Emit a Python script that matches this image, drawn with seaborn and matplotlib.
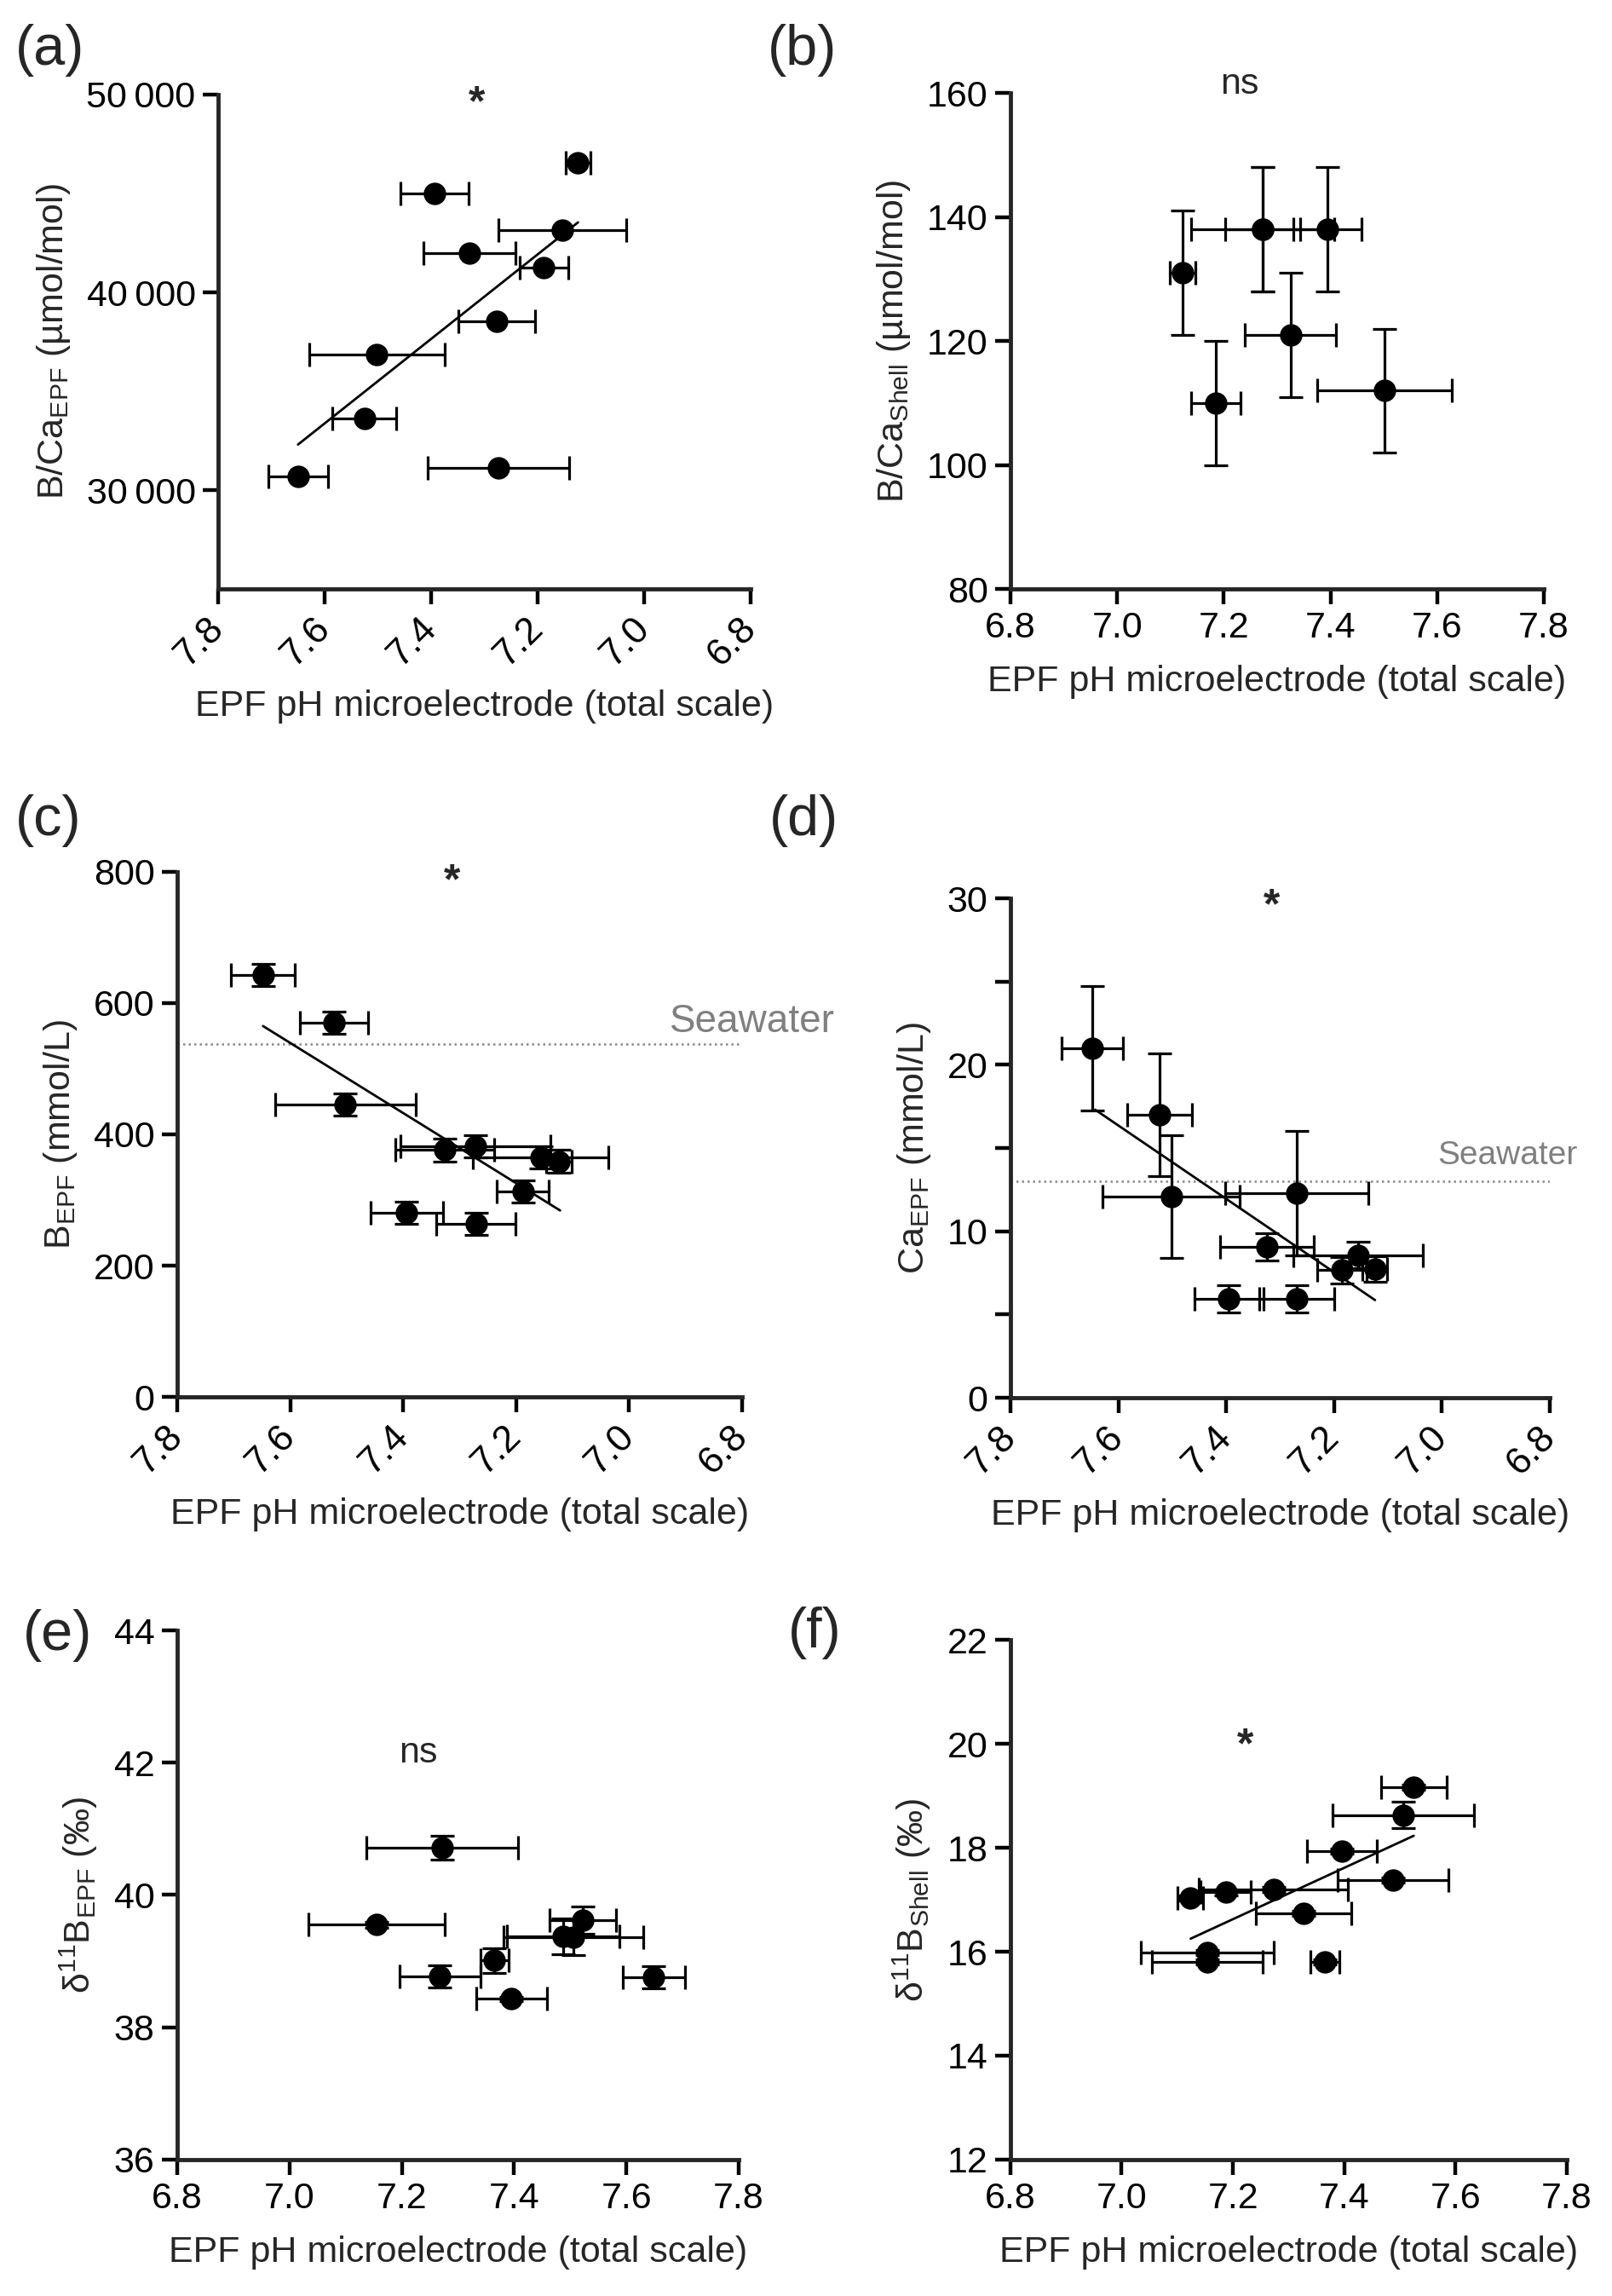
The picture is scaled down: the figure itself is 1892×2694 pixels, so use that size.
import matplotlib
matplotlib.use('Agg')
import matplotlib.pyplot as plt
import seaborn as sns
from matplotlib.ticker import FuncFormatter, MultipleLocator

# ---- data ----
# (a) B/Ca EPF vs pH (reversed x)
a_ph = [7.650, 7.525, 7.502, 7.394, 7.328, 7.276, 7.273, 7.188, 7.153, 7.124]
a_ph_err = [0.056, 0.060, 0.127, 0.064, 0.087, 0.072, 0.133, 0.046, 0.120, 0.023]
a_bca = [30670, 33610, 36840, 45020, 41990, 38520, 31100, 41270, 43130, 46530]
a_fit_ph = [7.650, 7.124]
a_fit_bca = [32300, 43540]

# (b) B/Ca shell
b_ph = [7.123, 7.185, 7.273, 7.273, 7.395, 7.325, 7.501]
b_ph_err = [0.024, 0.047, 0.071, 0.134, 0.064, 0.085, 0.126]
b_bca = [131, 110, 138, 138, 138, 121, 112]
b_bca_err = [10, 10, 10, 10, 10, 10, 10]

# (c) B EPF
c_ph = [7.648, 7.522, 7.502, 7.394, 7.326, 7.271, 7.272, 7.188, 7.156, 7.124]
c_ph_err = [0.057, 0.060, 0.125, 0.064, 0.087, 0.070, 0.133, 0.046, 0.120, 0.023]
c_b = [643, 570, 445, 280, 376, 264, 382, 313, 365, 359]
c_b_err = [17, 17, 17, 17, 18, 17, 17, 17, 17, 17]
c_fit_ph = [7.648, 7.122]
c_fit_b = [565, 284]
c_seawater = 538

# (d) Ca EPF
d_ph = [7.648, 7.524, 7.502, 7.395, 7.324, 7.269, 7.269, 7.185, 7.155, 7.124]
d_ph_err = [0.057, 0.060, 0.127, 0.064, 0.087, 0.133, 0.070, 0.046, 0.120, 0.023]
d_ca = [21.0, 17.0, 12.1, 5.93, 9.06, 12.3, 5.93, 7.66, 8.57, 7.75]
d_ca_err = [3.75, 3.7, 3.7, 0.83, 0.83, 3.75, 0.83, 0.8, 0.8, 0.76]
d_fit_ph = [7.643, 7.124]
d_fit_ca = [17.31, 5.87]
d_seawater = 13

# (e) d11B EPF
e_ph = [7.272, 7.155, 7.268, 7.365, 7.395, 7.488, 7.506, 7.523, 7.649]
e_ph_err = [0.135, 0.121, 0.072, 0.025, 0.063, 0.100, 0.124, 0.059, 0.056]
e_d11b = [40.71, 39.55, 38.77, 39.01, 38.43, 39.38, 39.36, 39.62, 38.76]
e_d11b_err = [0.18, 0.05, 0.17, 0.19, 0.03, 0.27, 0.27, 0.20, 0.17]

# (f) d11B shell
f_ph = [7.525, 7.506, 7.396, 7.488, 7.273, 7.187, 7.123, 7.327, 7.154, 7.154, 7.365]
f_ph_err = [0.059, 0.127, 0.063, 0.100, 0.134, 0.045, 0.023, 0.086, 0.119, 0.100, 0.026]
f_d11b = [19.17, 18.63, 17.94, 17.38, 17.19, 17.14, 17.04, 16.74, 15.99, 15.81, 15.81]
f_d11b_err = [0.05, 0.25, 0.05, 0.05, 0.05, 0.05, 0.05, 0.05, 0.05, 0.05, 0.05]
f_fit_ph = [7.124, 7.525]
f_fit_d11b = [16.25, 18.23]

xlab = 'EPF pH microelectrode (total scale)'

sns.set_theme(style='ticks')
plt.rcParams['font.family'] = ['Liberation Sans', 'DejaVu Sans']
plt.rcParams['mathtext.fontset'] = 'custom'
plt.rcParams['mathtext.rm'] = 'Liberation Sans'
plt.rcParams['mathtext.it'] = 'Liberation Sans:italic'
plt.rcParams['mathtext.bf'] = 'Liberation Sans:bold'

fig = plt.figure(figsize=(18.92, 26.94), dpi=100)


def panel(rect, x, y, xerr, yerr, reverse):
    ax = fig.add_axes(rect)
    ax.errorbar(x, y, xerr=xerr, yerr=yerr, fmt='none', ecolor='black',
                elinewidth=2.3, capsize=10, capthick=2.3, zorder=2)
    sns.scatterplot(x=x, y=y, ax=ax, color='black', s=360, linewidth=0, zorder=3)
    sns.despine(ax=ax)
    for s in ['left', 'bottom']:
        ax.spines[s].set_linewidth(3.5)
    ax.tick_params(which='both', width=3.2, length=13, labelsize=31, direction='out',
                   color='black', labelcolor='black', pad=6)
    if reverse:
        ax.set_xlim(7.8, 6.8)
        ax.set_xticks([7.8, 7.6, 7.4, 7.2, 7.0, 6.8])
        ax.set_xticklabels(['7.8', '7.6', '7.4', '7.2', '7.0', '6.8'], fontsize=32,
                           rotation=45, ha='right', va='center', rotation_mode='anchor')
        ax.tick_params(axis='x', pad=16)
        ax.set_xlabel(xlab, fontsize=31, labelpad=14)
    else:
        ax.set_xlim(6.8, 7.8)
        ax.set_xticks([6.8, 7.0, 7.2, 7.4, 7.6, 7.8])
        ax.set_xticklabels(['6.8', '7.0', '7.2', '7.4', '7.6', '7.8'])
        ax.set_xlabel(xlab, fontsize=31, labelpad=16)
    return ax


def fitline(ax, fx, fy):
    sns.lineplot(x=fx, y=fy, ax=ax, color='black', linewidth=2.0, zorder=2.5)


def seawater(ax, level, tx, ty, size):
    ax.axhline(level, color='#888888', linestyle=(0, (1, 1.6)), linewidth=1.8, zorder=1)
    ax.text(tx, ty, 'Seawater', color='#808080', fontsize=size, ha='right', va='center',
            clip_on=False)


def star(ax, x, y):
    ax.text(x, y, '*', fontsize=36, fontweight='bold', ha='center', va='center')


# (a)
ax = panel([0.1353, 0.7435, 0.3303, 0.2153], a_ph, a_bca, a_ph_err, None, True)
fitline(ax, a_fit_ph, a_fit_bca)
ax.set_ylim(25000, 50000)
ax.set_yticks([30000, 40000, 50000])
ax.yaxis.set_major_formatter(FuncFormatter(lambda v, p: f'{int(v):,}'.replace(',', '\u2009')))
ax.set_ylabel(r'B/Ca$_{\mathrm{EPF}}$ (µmol/mol)', fontsize=31, labelpad=12)
star(ax, 7.314, 49500)

# (b)
ax = panel([0.6268, 0.7435, 0.3309, 0.2160], b_ph, b_bca, b_ph_err, b_bca_err, False)
ax.set_ylim(80, 160)
ax.set_yticks([80, 100, 120, 140, 160])
ax.set_ylabel(r'B/Ca$_{\mathrm{Shell}}$ (µmol/mol)', fontsize=31, labelpad=12)
ax.text(7.229, 161.4, 'ns', fontsize=31, ha='center', va='center')

# (c)
ax = panel([0.1099, 0.3916, 0.3504, 0.2287], c_ph, c_b, c_ph_err, c_b_err, True)
fitline(ax, c_fit_ph, c_fit_b)
seawater(ax, c_seawater, 6.636, 571, 33)
ax.set_ylim(0, 800)
ax.set_yticks([0, 200, 400, 600, 800])
ax.set_ylabel(r'B$_{\mathrm{EPF}}$ (mmol/L)', fontsize=31, labelpad=12)
star(ax, 7.313, 784)

# (d)
ax = panel([0.6268, 0.3912, 0.3346, 0.2175], d_ph, d_ca, d_ph_err, d_ca_err, True)
fitline(ax, d_fit_ph, d_fit_ca)
seawater(ax, d_seawater, 6.749, 14.54, 28)
ax.set_ylim(0, 30)
ax.set_yticks([0, 10, 20, 30])
ax.yaxis.set_minor_locator(MultipleLocator(5))
ax.set_ylabel(r'Ca$_{\mathrm{EPF}}$ (mmol/L)', fontsize=31, labelpad=12)
star(ax, 7.315, 29.5)

# (e)
ax = panel([0.1099, 0.0594, 0.3483, 0.2305], e_ph, e_d11b, e_ph_err, e_d11b_err, False)
ax.set_ylim(36, 44)
ax.set_yticks([36, 38, 40, 42, 44])
ax.set_ylabel(r'δ$^{11}$B$_{\mathrm{EPF}}$ (‰)', fontsize=31, labelpad=12)
ax.text(7.23, 42.15, 'ns', fontsize=31, ha='center', va='center')

# (f)
ax = panel([0.6268, 0.0594, 0.3451, 0.2264], f_ph, f_d11b, f_ph_err, f_d11b_err, False)
fitline(ax, f_fit_ph, f_fit_d11b)
ax.set_ylim(12, 22)
ax.set_yticks([12, 14, 16, 18, 20, 22])
ax.set_ylabel(r'δ$^{11}$B$_{\mathrm{Shell}}$ (‰)', fontsize=31, labelpad=12)
star(ax, 7.222, 19.95)

# panel letters
for lab, px, py in [('(a)', 0.0095, 0.9896), ('(b)', 0.476, 0.9896),
                    ('(c)', 0.0095, 0.654), ('(d)', 0.477, 0.654),
                    ('(e)', 0.0143, 0.2992), ('(f)', 0.489, 0.3003)]:
    fig.text(px, py, lab, fontsize=48, ha='left', va='top')

fig.savefig('out.png', dpi=100)
